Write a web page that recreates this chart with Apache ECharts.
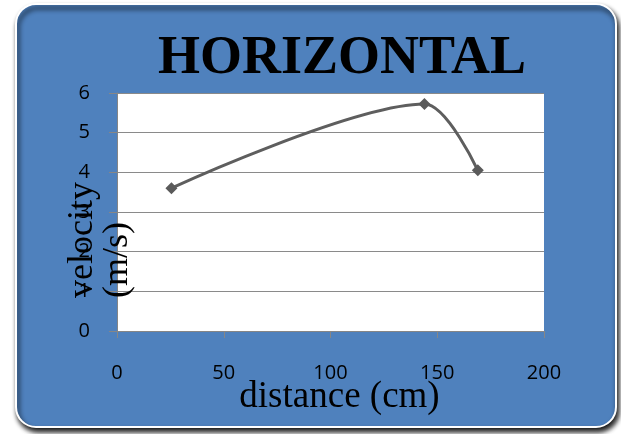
<!DOCTYPE html>
<html>
<head>
<meta charset="utf-8">
<script src="https://cdn.jsdelivr.net/npm/echarts@6/dist/echarts.min.js"></script>
<style>
html,body{margin:0;padding:0;background:#ffffff;}
#chart{width:621px;height:434px;}
</style>
</head>
<body>
<div id="chart"></div>
<script>
// Data
var distance = [25.5, 144, 169];
var velocity = [3.6, 5.72, 4.05];
var xTicks = [0, 50, 100, 150, 200];
var yTicks = [0, 1, 2, 3, 4, 5, 6];
var titleText = 'HORIZONTAL';
var xName = 'distance (cm)';
var yNameLines = ['velocity', '(m/s)'];

var points = distance.map(function (d, i) { return [d, velocity[i]]; });

var chart = echarts.init(document.getElementById('chart'), null, {renderer: 'canvas'});
var labelFont = {color: '#000000', fontSize: 20, fontFamily: 'Open Sans'};
chart.setOption({
  animation: false,
  backgroundColor: '#ffffff',
  title: {
    text: titleText,
    left: 158,
    top: 32,
    padding: 0,
    textStyle: {fontFamily: 'Liberation Serif', fontWeight: 'bold', fontSize: 54, color: '#000000'}
  },
  graphic: [
    {
      type: 'rect', z: -10,
      shape: {x: 16, y: 4, width: 600, height: 423, r: 20},
      style: {fill: '#4f81bd', stroke: '#ffffff', lineWidth: 2,
              shadowBlur: 5, shadowOffsetX: 2, shadowOffsetY: 4, shadowColor: 'rgba(0,0,0,0.95)'}
    },
    {
      type: 'text', z: 100,
      x: 65, y: 298, rotation: Math.PI / 2,
      style: {text: yNameLines.join('\n'), align: 'left', verticalAlign: 'top',
              fontFamily: 'Liberation Serif', fontSize: 36, lineHeight: 35, fill: '#000000'}
    }
  ],
  grid: {left: 117, right: 77, top: 93, bottom: 103, show: true, backgroundColor: '#ffffff', borderWidth: 0},
  xAxis: {
    type: 'value', min: xTicks[0], max: xTicks[xTicks.length - 1], interval: 50,
    name: xName, nameLocation: 'middle', nameGap: 48, nameMoveOverlap: false,
    nameTextStyle: {fontFamily: 'Liberation Serif', fontSize: 37, color: '#000000', padding: [0, 0, 0, 18]},
    axisLine: {show: true, lineStyle: {color: '#868686', width: 1}},
    axisTick: {show: true, length: 7, lineStyle: {color: '#868686'}},
    axisLabel: Object.assign({margin: 32}, labelFont),
    splitLine: {show: false}
  },
  yAxis: {
    type: 'value', min: yTicks[0], max: yTicks[yTicks.length - 1], interval: 1,
    axisLine: {show: true, lineStyle: {color: '#868686', width: 1}},
    axisTick: {show: true, length: 8, lineStyle: {color: '#868686'}},
    axisLabel: Object.assign({margin: 27}, labelFont),
    splitLine: {show: true, lineStyle: {color: '#8a8a8a', width: 1}}
  },
  series: [{
    type: 'line',
    data: points,
    smooth: 0.3,
    symbol: 'diamond',
    symbolSize: 12,
    lineStyle: {color: '#5e5e5e', width: 3},
    itemStyle: {color: '#5a5a5a'}
  }]
});
</script>
</body>
</html>
